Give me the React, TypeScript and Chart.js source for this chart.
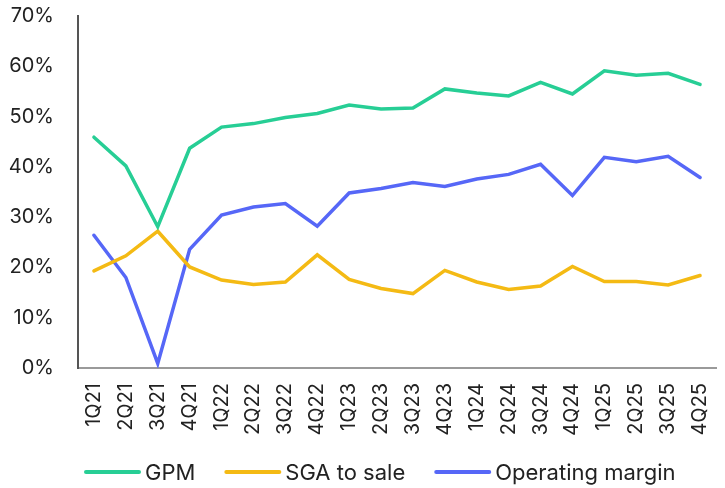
import React, { useEffect, useRef } from "react";
import { Chart, registerables } from "chart.js";

Chart.register(...registerables);

const quarters = [
  "1Q21", "2Q21", "3Q21", "4Q21",
  "1Q22", "2Q22", "3Q22", "4Q22",
  "1Q23", "2Q23", "3Q23", "4Q23",
  "1Q24", "2Q24", "3Q24", "4Q24",
  "1Q25", "2Q25", "3Q25", "4Q25",
];

const gpm = [45.9, 40.2, 28.1, 43.7, 47.9, 48.6, 49.8, 50.6, 52.3, 51.5, 51.7, 55.5, 54.7, 54.1, 56.8, 54.5, 59.1, 58.2, 58.6, 56.4];
const sgaToSale = [19.3, 22.3, 27.2, 20.1, 17.5, 16.6, 17.1, 22.5, 17.6, 15.8, 14.8, 19.4, 17.1, 15.6, 16.3, 20.2, 17.2, 17.2, 16.5, 18.4];
const operatingMargin = [26.4, 18.0, 0.9, 23.6, 30.4, 32.0, 32.7, 28.2, 34.8, 35.7, 36.9, 36.1, 37.6, 38.5, 40.5, 34.3, 41.9, 41.0, 42.1, 37.9];

const yTicks = [0, 10, 20, 30, 40, 50, 60, 70];

const COLORS = {
  gpm: "#27CE95",
  sga: "#F4BA14",
  op: "#5667F7",
};

const FONT = "Inter, sans-serif";

const legendPlugin = {
  id: "customLegend",
  afterDraw(chart: any) {
    const ctx = chart.ctx;
    ctx.save();
    ctx.font = `22px ${FONT}`;
    ctx.textBaseline = "middle";
    ctx.textAlign = "left";
    let x = 86;
    const y = 472;
    chart.data.datasets.forEach((ds: any) => {
      ctx.strokeStyle = ds.borderColor;
      ctx.lineWidth = 4;
      ctx.lineCap = "round";
      ctx.beginPath();
      ctx.moveTo(x, y);
      ctx.lineTo(x + 53, y);
      ctx.stroke();
      x += 59;
      ctx.fillStyle = "#222";
      ctx.fillText(ds.label, x, y + 1);
      x += ctx.measureText(ds.label).width + 31;
    });
    ctx.restore();
  },
};

export default function App() {
  const ref = useRef<HTMLCanvasElement>(null);

  useEffect(() => {
    const canvas = ref.current;
    if (!canvas) return;
    const chart = new Chart(canvas, {
      type: "line",
      data: {
        labels: quarters,
        datasets: [
          { label: "GPM", data: gpm, borderColor: COLORS.gpm, backgroundColor: COLORS.gpm },
          { label: "SGA to sale", data: sgaToSale, borderColor: COLORS.sga, backgroundColor: COLORS.sga },
          { label: "Operating margin", data: operatingMargin, borderColor: COLORS.op, backgroundColor: COLORS.op },
        ],
      },
      options: {
        animation: false,
        responsive: false,
        maintainAspectRatio: false,
        elements: {
          line: { borderWidth: 3.5, tension: 0, borderJoinStyle: "miter", borderCapStyle: "round" },
          point: { radius: 0, hoverRadius: 0 },
        },
        layout: { padding: { top: 0, right: 9, bottom: 40, left: 0 } },
        plugins: {
          legend: { display: false },
          tooltip: { enabled: false },
        },
        scales: {
          x: {
            offset: true,
            grid: { display: false, drawTicks: false },
            border: { display: true, color: "#9a9a9a", width: 2 },
            ticks: {
              minRotation: 90,
              maxRotation: 90,
              autoSkip: false,
              padding: 15,
              color: "#222",
              font: { family: FONT, size: 20 },
            },
            afterFit: (scale: any) => {
              scale.height = 80;
              scale.paddingLeft = 0;
              scale.paddingRight = 0;
            },
          },
          y: {
            min: 0,
            max: 70,
            grid: { display: false, drawTicks: false },
            border: { display: true, color: "#555", width: 2 },
            afterBuildTicks: (scale: any) => {
              scale.ticks = yTicks.map((v) => ({ value: v }));
            },
            ticks: {
              padding: 24,
              color: "#222",
              font: { family: FONT, size: 20 },
              callback: (v: any) => `${v}%`,
            },
            afterFit: (scale: any) => {
              scale.width = 78;
              scale.paddingTop = 16;
              scale.paddingBottom = 12;
            },
          },
        },
      },
      plugins: [legendPlugin],
    });
    return () => chart.destroy();
  }, []);

  return (
    <div style={{ position: "fixed", left: 0, top: 0, width: 725, height: 488, background: "#fff" }}>
      <canvas ref={ref} width={725} height={488} style={{ display: "block" }} />
    </div>
  );
}
